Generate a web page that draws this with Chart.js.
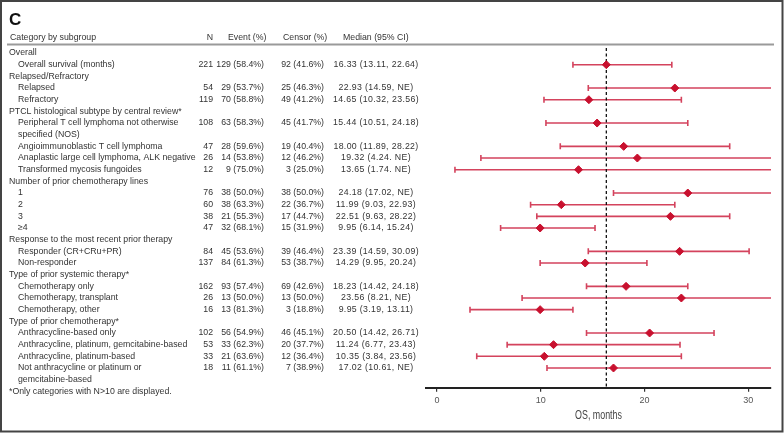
<!DOCTYPE html>
<html lang="en">
<head>
<meta charset="UTF-8">
<title>Overall survival by subgroup</title>
<script src="https://cdn.jsdelivr.net/npm/chart.js"></script>
<style>
  body { margin: 0; background: #fff; }
</style>
</head>
<body>
<canvas id="forest" width="784" height="433"></canvas>
<script>
// subgroup headers
const groups = [
  'Overall',
  'Relapsed/Refractory',
  'PTCL histological subtype by central review*',
  'Number of prior chemotherapy lines',
  'Response to the most recent prior therapy',
  'Type of prior systemic therapy*',
  'Type of prior chemotherapy*'
];
// categories (\n = wrapped onto a second line)
const categories = [
  'Overall survival (months)',
  'Relapsed', 'Refractory',
  'Peripheral T cell lymphoma not otherwise\nspecified (NOS)', 'Angioimmunoblastic T cell lymphoma',
  'Anaplastic large cell lymphoma, ALK negative', 'Transformed mycosis fungoides',
  '1', '2', '3', '\u22654',
  'Responder (CR+CRu+PR)', 'Non-responder',
  'Chemotherapy only', 'Chemotherapy, transplant', 'Chemotherapy, other',
  'Anthracycline-based only', 'Anthracycline, platinum, gemcitabine-based',
  'Anthracycline, platinum-based', 'Not anthracycline or platinum or\ngemcitabine-based'
];
const groupOf   = [0, 1, 1, 2, 2, 2, 2, 3, 3, 3, 3, 4, 4, 5, 5, 5, 6, 6, 6, 6];
const nPatients = [221, 54, 119, 108, 47, 26, 12, 76, 60, 38, 47, 84, 137, 162, 26, 16, 102, 53, 33, 18];
const events    = [129, 29, 70, 63, 28, 14, 9, 38, 38, 21, 32, 45, 84, 93, 13, 13, 56, 33, 21, 11];
const eventPct  = ['58.4', '53.7', '58.8', '58.3', '59.6', '53.8', '75.0', '50.0', '63.3', '55.3', '68.1', '53.6', '61.3', '57.4', '50.0', '81.3', '54.9', '62.3', '63.6', '61.1'];
const censored  = [92, 25, 49, 45, 19, 12, 3, 38, 22, 17, 15, 39, 53, 69, 13, 3, 46, 20, 12, 7];
const censorPct = ['41.6', '46.3', '41.2', '41.7', '40.4', '46.2', '25.0', '50.0', '36.7', '44.7', '31.9', '46.4', '38.7', '42.6', '50.0', '18.8', '45.1', '37.7', '36.4', '38.9'];
const medianText = [
  '16.33 (13.11, 22.64)', '22.93 (14.59, NE)', '14.65 (10.32, 23.56)', '15.44 (10.51, 24.18)',
  '18.00 (11.89, 28.22)', '19.32 (4.24. NE)', '13.65 (1.74. NE)', '24.18 (17.02, NE)',
  '11.99 (9.03, 22.93)', '22.51 (9.63, 28.22)', '9.95 (6.14, 15.24)', '23.39 (14.59, 30.09)',
  '14.29 (9.95, 20.24)', '18.23 (14.42, 24.18)', '23.56 (8.21, NE)', '9.95 (3.19, 13.11)',
  '20.50 (14.42, 26.71)', '11.24 (6.77, 23.43)', '10.35 (3.84, 23.56)', '17.02 (10.61, NE)'
];
// median OS and 95% CI in months (null upper = NE, not estimable)
const median = [16.33, 22.93, 14.65, 15.44, 18.00, 19.32, 13.65, 24.18, 11.99, 22.51, 9.95, 23.39, 14.29, 18.23, 23.56, 9.95, 20.50, 11.24, 10.35, 17.02];
const lower  = [13.11, 14.59, 10.32, 10.51, 11.89, 4.24, 1.74, 17.02, 9.03, 9.63, 6.14, 14.59, 9.95, 14.42, 8.21, 3.19, 14.42, 6.77, 3.84, 10.61];
const upper  = [22.64, null, 23.56, 24.18, 28.22, null, null, null, 22.93, 28.22, 15.24, 30.09, 20.24, 24.18, null, 13.11, 26.71, 23.43, 23.56, null];
const overallMedian = 16.33;
const xTicks = [0, 10, 20, 30];
const xTitle = 'OS, months';
const footnote = '*Only categories with N>10 are displayed.';

// work out the text row of each header / category
const headerRow = [];
const catRow = [];
let r = 0;
groups.forEach((g, gi) => {
  headerRow.push(r++);
  categories.forEach((c, ci) => {
    if (groupOf[ci] === gi) {
      catRow[ci] = r;
      r += c.split('\n').length;
    }
  });
});

const RED = '#c8102e';
const CI_RED = '#d4435d';
const TXT = '#333';
const FAMILY = '"Liberation Sans", Arial, sans-serif';
const FONT = '8.75px ' + FAMILY;

const forestPlugin = {
  id: 'forest',
  beforeDatasetsDraw(chart) {
    const { ctx, chartArea, scales: { x, y } } = chart;
    ctx.save();
    // confidence intervals
    ctx.strokeStyle = CI_RED;
    ctx.lineWidth = 1.6;
    median.forEach((m, i) => {
      const py = y.getPixelForValue(catRow[i]);
      const x1 = x.getPixelForValue(lower[i]);
      const x2 = upper[i] === null ? chartArea.right : x.getPixelForValue(upper[i]);
      ctx.beginPath();
      ctx.moveTo(x1, py); ctx.lineTo(x2, py);
      ctx.moveTo(x1, py - 3); ctx.lineTo(x1, py + 3);
      if (upper[i] !== null) { ctx.moveTo(x2, py - 3); ctx.lineTo(x2, py + 3); }
      ctx.stroke();
    });
    // reference line at overall median
    const rx = x.getPixelForValue(overallMedian);
    ctx.strokeStyle = '#111';
    ctx.lineWidth = 1.3;
    ctx.setLineDash([3, 2.5]);
    ctx.beginPath();
    ctx.moveTo(rx, chartArea.top + 3);
    ctx.lineTo(rx, chartArea.bottom);
    ctx.stroke();
    ctx.restore();
  },
  afterDraw(chart) {
    const { ctx, chartArea, scales: { y } } = chart;
    ctx.save();
    // frame
    ctx.strokeStyle = '#444';
    ctx.lineWidth = 2;
    ctx.strokeRect(1, 1, 781.5, 430.5);
    // panel letter
    ctx.fillStyle = '#111';
    ctx.font = 'bold 17px ' + FAMILY;
    ctx.textBaseline = 'alphabetic';
    ctx.fillText('C', 9, 24.5);
    // x axis title, condensed
    ctx.save();
    ctx.fillStyle = '#444';
    ctx.font = '12px ' + FAMILY;
    ctx.textAlign = 'center';
    ctx.textBaseline = 'middle';
    ctx.translate((chartArea.left + chartArea.right) / 2, 416);
    ctx.scale(0.74, 1);
    ctx.fillText(xTitle, 0, 0);
    ctx.restore();
    // header
    ctx.font = FONT;
    ctx.fillStyle = TXT;
    ctx.textBaseline = 'middle';
    const hy = y.getPixelForValue(-1.33);
    ctx.textAlign = 'left';
    ctx.fillText('Category by subgroup', 10, hy);
    ctx.textAlign = 'right';
    ctx.fillText('N', 213, hy);
    ctx.textAlign = 'left';
    ctx.fillText('Event (%)', 228, hy);
    ctx.fillText('Censor (%)', 283, hy);
    ctx.fillText('Median (95% CI)', 343, hy);
    ctx.strokeStyle = '#9a9a9a';
    ctx.lineWidth = 2;
    ctx.beginPath();
    ctx.moveTo(7, 44.5); ctx.lineTo(774, 44.5);
    ctx.stroke();
    // group headers
    groups.forEach((g, gi) => {
      ctx.textAlign = 'left';
      ctx.fillText(g, 9, y.getPixelForValue(headerRow[gi]));
    });
    // category rows
    categories.forEach((c, i) => {
      const py = y.getPixelForValue(catRow[i]);
      ctx.textAlign = 'left';
      c.split('\n').forEach((line, k) => {
        ctx.fillText(line, 18, y.getPixelForValue(catRow[i] + k));
      });
      ctx.textAlign = 'right';
      ctx.fillText(String(nPatients[i]), 213, py);
      ctx.fillText(events[i] + ' (' + eventPct[i] + '%)', 264, py);
      ctx.fillText(censored[i] + ' (' + censorPct[i] + '%)', 324, py);
      ctx.textAlign = 'center';
      ctx.letterSpacing = '0.35px';
      ctx.fillText(medianText[i], 376, py);
      ctx.letterSpacing = '0px';
    });
    // footnote
    ctx.textAlign = 'left';
    ctx.fillText(footnote, 9, y.getPixelForValue(29));
    ctx.restore();
  }
};

new Chart(document.getElementById('forest'), {
  type: 'scatter',
  data: {
    datasets: [{
      label: 'Median OS',
      data: median.map((m, i) => ({ x: m, y: catRow[i] })),
      pointStyle: 'rectRot',
      pointRadius: 4,
      pointHoverRadius: 4,
      backgroundColor: RED,
      borderColor: RED,
      borderWidth: 1
    }]
  },
  options: {
    responsive: false,
    animation: false,
    events: [],
    layout: { padding: { left: 426, right: 13, top: 45, bottom: 24.5 } },
    plugins: { legend: { display: false }, tooltip: { enabled: false } },
    scales: {
      y: {
        type: 'linear',
        display: false,
        reverse: true,
        min: -0.69,
        max: 28.69
      },
      x: {
        type: 'linear',
        min: -1.05,
        max: 32.2,
        afterBuildTicks: axis => { axis.ticks = xTicks.map(v => ({ value: v })); },
        grid: { display: true, drawOnChartArea: false, drawTicks: true, tickLength: 4, color: '#333', lineWidth: 1.2 },
        border: { display: true, color: '#222', width: 2 },
        ticks: { color: '#555', padding: 3, font: { family: FAMILY, size: 9 } },
        title: { display: false }
      }
    }
  },
  plugins: [forestPlugin]
});
</script>
</body>
</html>
